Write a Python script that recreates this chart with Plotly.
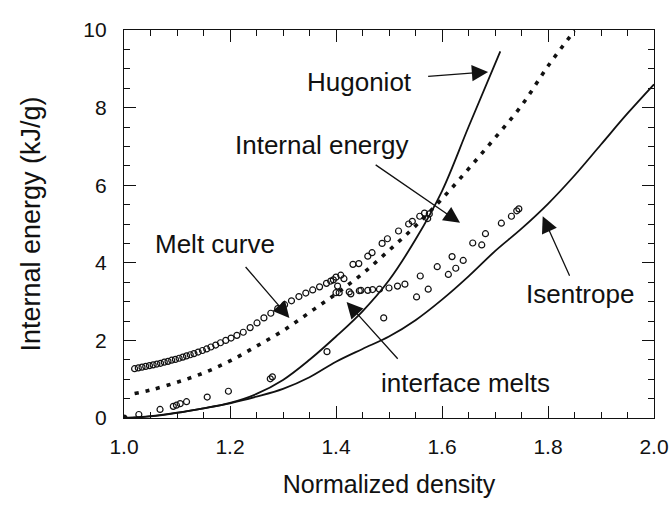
import plotly.graph_objects as go

# ---- data ----
hug_x = [1.0, 1.05, 1.1, 1.15, 1.2, 1.25, 1.3, 1.35, 1.4, 1.45, 1.5, 1.55, 1.6, 1.65, 1.71]
hug_y = [0.0, 0.05, 0.14, 0.25, 0.39, 0.62, 0.98, 1.5, 2.1, 2.75, 3.55, 4.6, 5.85, 7.5, 9.45]

isen_x = [1.0, 1.05, 1.1, 1.15, 1.2, 1.25, 1.3, 1.35, 1.4, 1.45, 1.5, 1.55, 1.6, 1.65, 1.7,
          1.75, 1.8, 1.85, 1.9, 1.95, 2.0]
isen_y = [0.0, 0.04, 0.13, 0.25, 0.38, 0.55, 0.75, 1.05, 1.45, 1.78, 2.1, 2.52, 3.05, 3.65, 4.3,
          4.88, 5.52, 6.25, 7.05, 7.85, 8.6]

ie_x = [1.02, 1.05, 1.1, 1.15, 1.2, 1.25, 1.3, 1.35, 1.4, 1.45, 1.5, 1.55, 1.6, 1.65, 1.7,
        1.75, 1.8, 1.85]
ie_y = [0.63, 0.72, 0.92, 1.16, 1.47, 1.85, 2.25, 2.72, 3.2, 3.72, 4.32, 4.95, 5.65, 6.42, 7.22,
        8.05, 9.07, 9.98]

melt_x = [1.020, 1.027, 1.034, 1.041, 1.048, 1.055, 1.062, 1.069, 1.076, 1.083, 1.090, 1.097,
          1.104, 1.111, 1.118, 1.125, 1.132, 1.140, 1.148, 1.156, 1.164, 1.173, 1.182, 1.192,
          1.202, 1.213, 1.225, 1.238, 1.251, 1.264, 1.277, 1.290, 1.303, 1.316, 1.330, 1.343,
          1.356, 1.369, 1.382, 1.395, 1.409, 1.432, 1.443, 1.460, 1.468, 1.487, 1.497, 1.518,
          1.537, 1.544, 1.558, 1.567, 1.576, 1.573]
melt_y = [1.27, 1.29, 1.31, 1.33, 1.35, 1.37, 1.39, 1.41, 1.44, 1.46, 1.49, 1.51,
          1.54, 1.57, 1.60, 1.63, 1.66, 1.70, 1.74, 1.78, 1.83, 1.88, 1.94, 2.00,
          2.06, 2.13, 2.21, 2.33, 2.45, 2.58, 2.70, 2.82, 2.92, 3.02, 3.13, 3.22,
          3.30, 3.38, 3.47, 3.56, 3.68, 3.96, 3.98, 4.17, 4.26, 4.50, 4.62, 4.82,
          5.00, 5.07, 5.20, 5.28, 5.26, 5.14]

iface_x = [1.390, 1.400, 1.415, 1.403, 1.400, 1.406, 1.425, 1.428, 1.444, 1.447, 1.460, 1.469,
           1.482, 1.500, 1.516, 1.530]
iface_y = [3.53, 3.63, 3.59, 3.40, 3.23, 3.23, 3.25, 3.20, 3.28, 3.29, 3.29, 3.31,
           3.32, 3.35, 3.40, 3.45]

sim_x = [1.028, 1.068, 1.093, 1.099, 1.106, 1.118, 1.157, 1.197, 1.276, 1.280, 1.383, 1.490,
         1.552, 1.574, 1.559, 1.591, 1.612, 1.626, 1.619, 1.640, 1.658, 1.675, 1.682, 1.712,
         1.731, 1.741, 1.745]
sim_y = [0.09, 0.22, 0.30, 0.33, 0.37, 0.42, 0.54, 0.69, 1.01, 1.06, 1.71, 2.58,
         3.12, 3.32, 3.66, 3.90, 3.70, 3.86, 4.16, 4.06, 4.51, 4.46, 4.75, 5.02,
         5.20, 5.34, 5.39]

origin_x = [1.0]
origin_y = [0.0]

x_ticks = [1.0, 1.2, 1.4, 1.6, 1.8, 2.0]
y_ticks = [0, 2, 4, 6, 8, 10]

# ---- figure ----
INK = "#111111"
FONT = "Liberation Sans, Arial, Helvetica, sans-serif"

fig = go.Figure()
fig.add_trace(go.Scatter(x=hug_x, y=hug_y, mode="lines", line=dict(color=INK, width=1.8, shape="spline"),
                         name="Hugoniot", hoverinfo="skip"))
fig.add_trace(go.Scatter(x=isen_x, y=isen_y, mode="lines", line=dict(color=INK, width=1.8, shape="spline"),
                         name="Isentrope", hoverinfo="skip"))
fig.add_trace(go.Scatter(x=ie_x, y=ie_y, mode="lines",
                         line=dict(color=INK, width=3.6, dash="4px,7px", shape="spline"),
                         name="Internal energy", hoverinfo="skip"))
circle = dict(symbol="circle-open", size=6, color=INK, line=dict(width=1.2, color=INK))
fig.add_trace(go.Scatter(x=melt_x, y=melt_y, mode="markers", marker=circle, name="Melt curve"))
fig.add_trace(go.Scatter(x=iface_x, y=iface_y, mode="markers", marker=circle, name="interface melts"))
fig.add_trace(go.Scatter(x=sim_x, y=sim_y, mode="markers", marker=circle, name="points"))
fig.add_trace(go.Scatter(x=origin_x, y=origin_y, mode="markers",
                         marker=dict(symbol="circle", size=7, color=INK), name="origin"))

labels = [
    ("Hugoniot", 1.445, 8.67),
    ("Internal energy", 1.372, 7.04),
    ("Melt curve", 1.172, 4.49),
    ("interface melts", 1.644, 0.91),
    ("Isentrope", 1.86, 3.2),
]
arrows = [  # (tip x, tip y, start x, start y)
    (1.687, 8.92, 1.571, 8.80),
    (1.634, 5.03, 1.472, 6.55),
    (1.312, 2.58, 1.227, 3.93),
    (1.420, 2.99, 1.519, 1.49),
    (1.790, 5.20, 1.842, 3.63),
]
ann = []
for t, x, y in labels:
    ann.append(dict(text=t, x=x, y=y, xref="x", yref="y", showarrow=False,
                    font=dict(size=26, color=INK, family=FONT)))
for tx, ty, sx, sy in arrows:
    ann.append(dict(text="", x=tx, y=ty, ax=sx, ay=sy, xref="x", yref="y", axref="x", ayref="y",
                    showarrow=True, arrowhead=2, arrowsize=2.5, arrowwidth=1.3, arrowcolor=INK))

axis_common = dict(showline=True, linecolor=INK, linewidth=1.4, mirror="allticks",
                   ticks="inside", ticklen=12, tickwidth=1.3, tickcolor=INK,
                   showgrid=False, zeroline=False,
                   tickfont=dict(size=21, color=INK, family=FONT))

fig.update_xaxes(range=[1.0, 2.0], tickvals=x_ticks, ticktext=[f"{v:.1f}" for v in x_ticks],
                 minor=dict(tickvals=[1.0 + 0.05 * i for i in range(21)], ticks="inside", ticklen=6,
                            tickwidth=1.1, tickcolor=INK),
                 title=dict(text="Normalized density", font=dict(size=25, color=INK, family=FONT), standoff=18),
                 ticklabelstandoff=10, **axis_common)
fig.update_yaxes(range=[0, 10], tickvals=y_ticks, ticktext=[str(v) for v in y_ticks],
                 minor=dict(tickvals=[0.5 * i for i in range(21)], ticks="inside", ticklen=6,
                            tickwidth=1.1, tickcolor=INK),
                 title=dict(text="Internal energy (kJ/g)", font=dict(size=27, color=INK, family=FONT), standoff=34),
                 ticklabelstandoff=12, **axis_common)

fig.update_layout(width=669, height=522, margin=dict(l=124, r=15, t=30, b=104, autoexpand=False),
                  paper_bgcolor="white", plot_bgcolor="white", showlegend=False,
                  annotations=ann, font=dict(family=FONT, color=INK))

fig.write_html("out.html")
